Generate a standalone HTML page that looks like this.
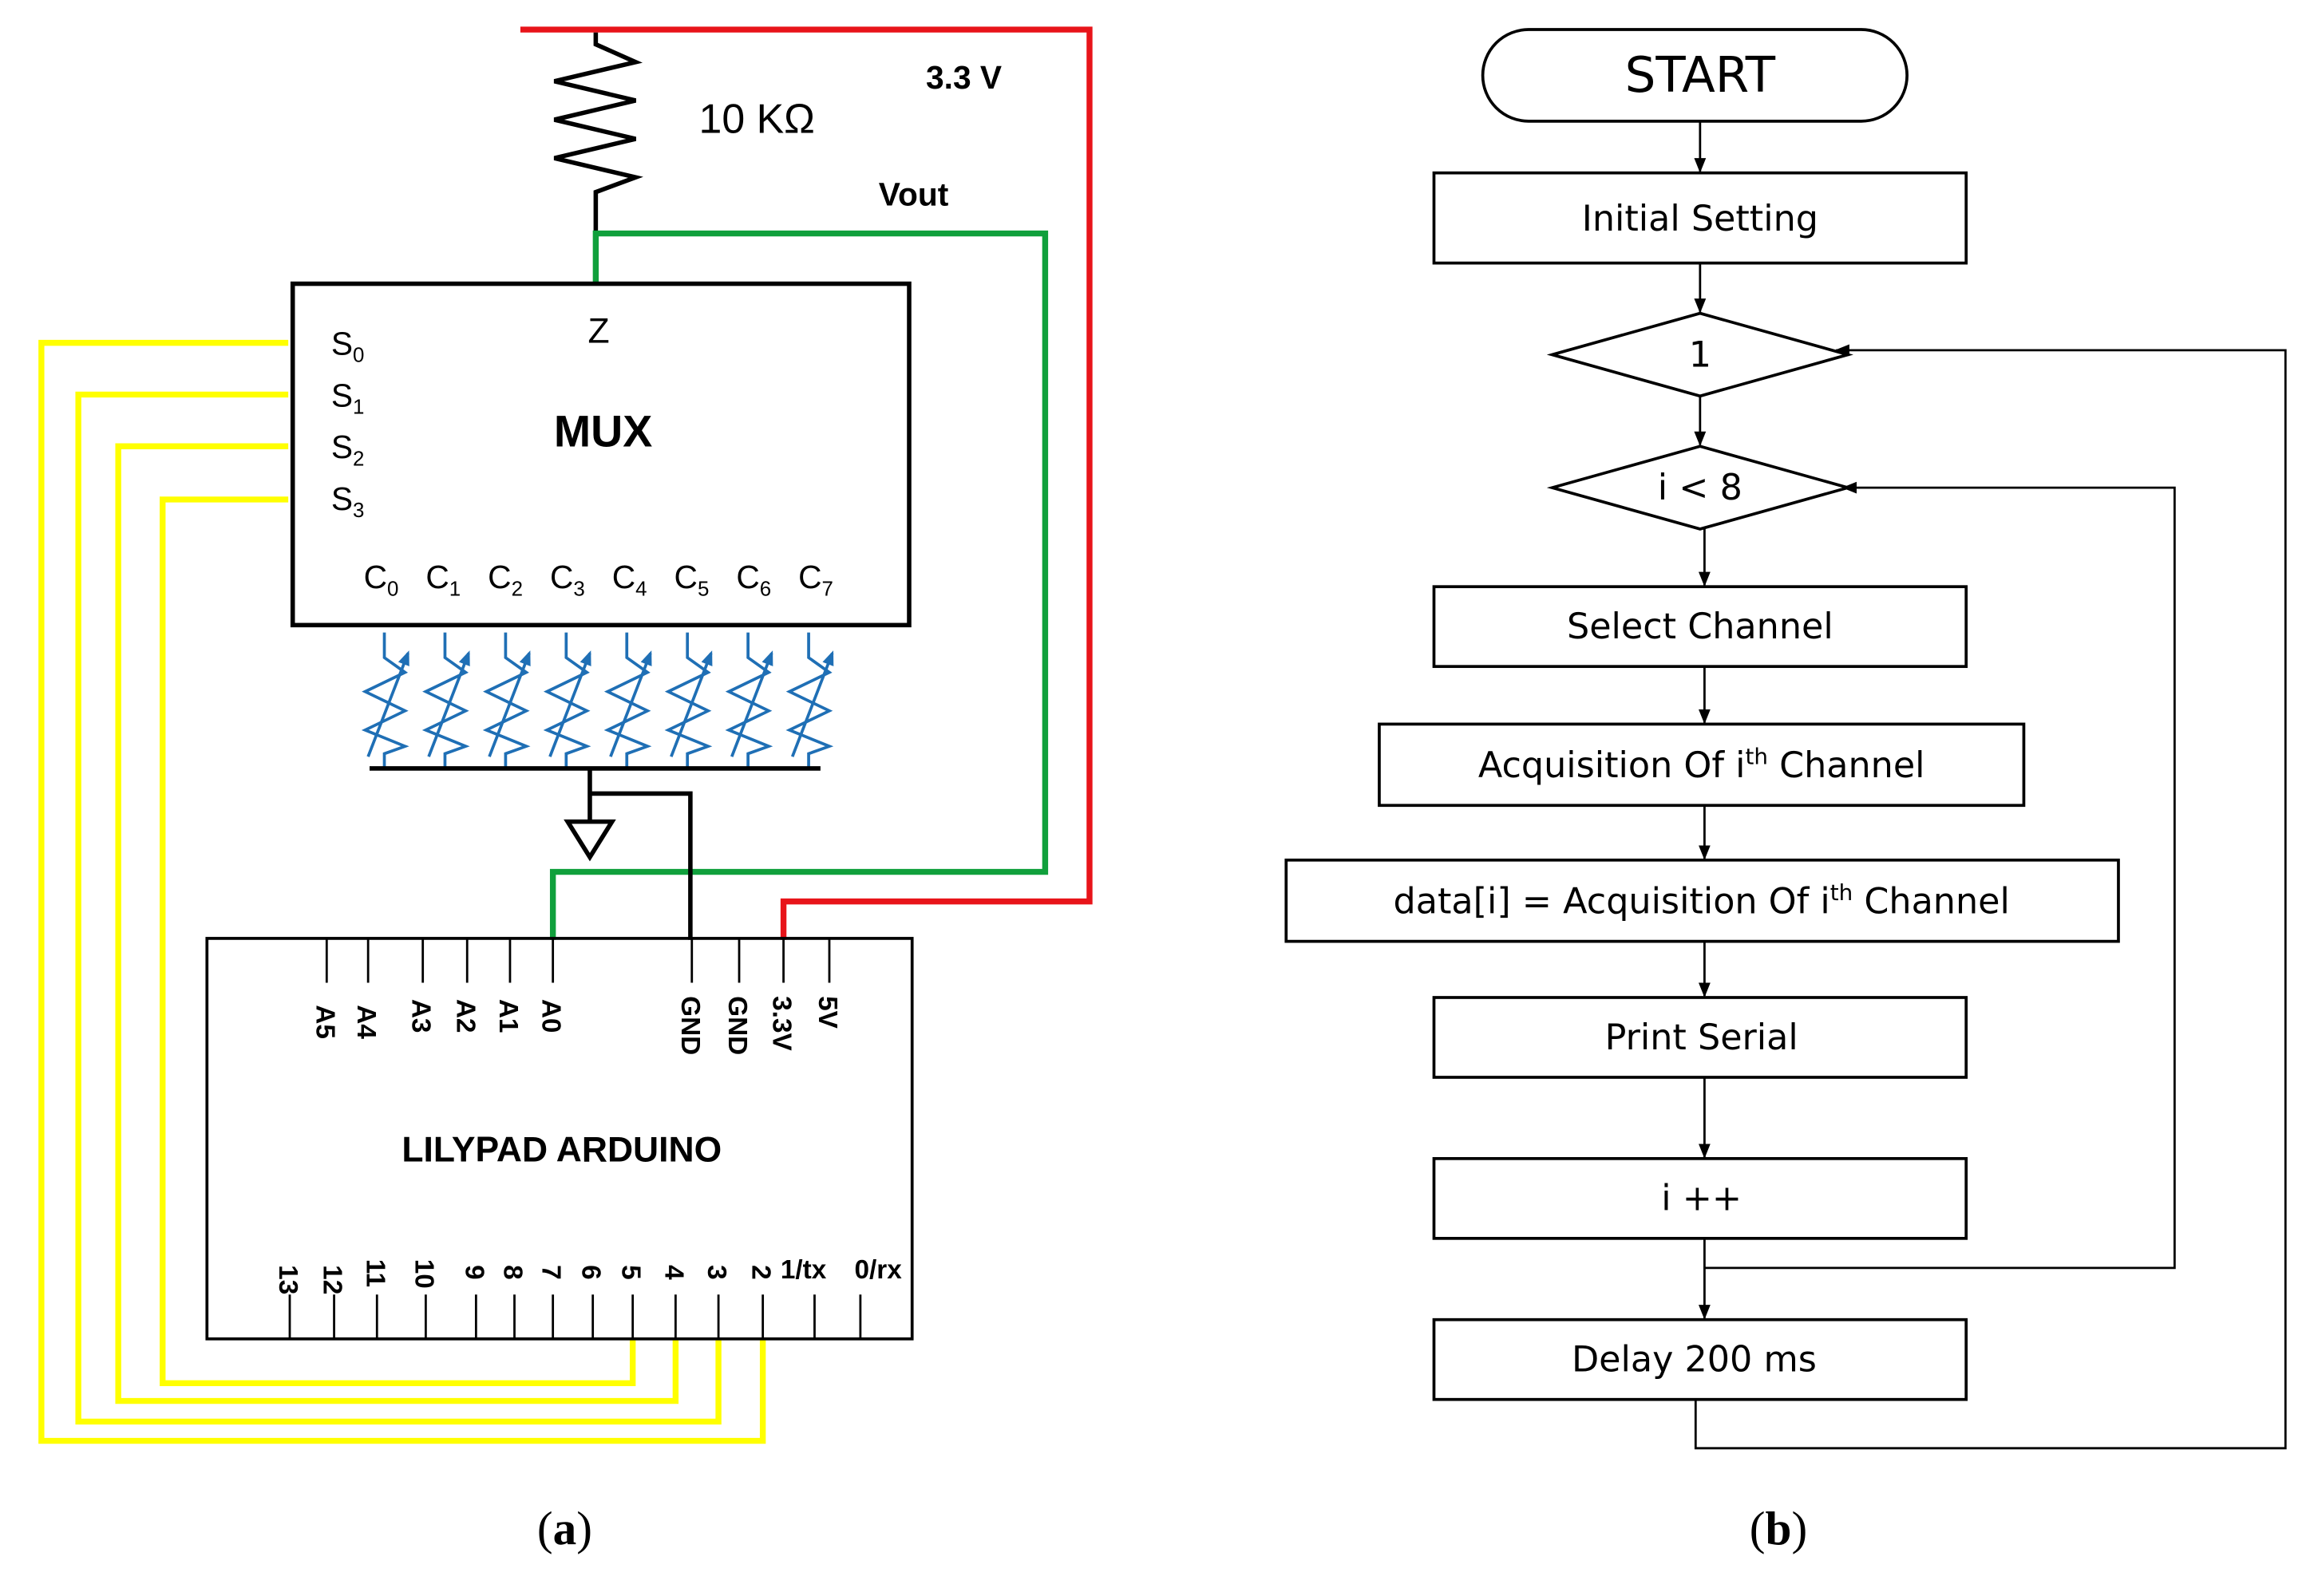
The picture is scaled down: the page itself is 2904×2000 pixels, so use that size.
<!DOCTYPE html>
<html><head><style>html,body{margin:0;padding:0;background:#fff}svg{display:block}</style></head><body>
<svg width="2904" height="2000" viewBox="0 0 1568 1080" preserveAspectRatio="none" xmlns="http://www.w3.org/2000/svg">
<defs><marker id="ah" markerWidth="10" markerHeight="10" refX="9" refY="5" orient="auto" markerUnits="userSpaceOnUse"><path d="M0,1 L10,5 L0,9 z" fill="#000"/></marker>
<marker id="bh" markerWidth="10" markerHeight="10" refX="8" refY="5" orient="auto" markerUnits="userSpaceOnUse"><path d="M0,1 L10,5 L0,9 z" fill="#1f6fb5"/></marker></defs>
<g fill="none" stroke-linejoin="miter">
<polyline points="352,20 737,20 737,610 530,610 530,636" stroke="#e8141a" stroke-width="4"/>
<polyline points="403,22 403,30 430,42 375,55 430,68 375,81 430,94 375,107 430,120 403,130 403,158" stroke="#000" stroke-width="3"/>
<polyline points="403,192 403,158 707,158 707,590 374,590 374,636" stroke="#10a03c" stroke-width="4"/>
<polyline points="195,232 28,232 28,975 516,975 516,906" stroke="#ffff00" stroke-width="4"/>
<polyline points="195,267 53,267 53,962 486,962 486,906" stroke="#ffff00" stroke-width="4"/>
<polyline points="195,302 80,302 80,948 457,948 457,906" stroke="#ffff00" stroke-width="4"/>
<polyline points="195,338 110,338 110,936 428,936 428,906" stroke="#ffff00" stroke-width="4"/>
<rect x="198" y="192" width="417" height="231" stroke="#000" stroke-width="3"/>
<g stroke="#1f6fb5" stroke-width="2">
<g id="th"><polyline points="260,428 260,445 274,455 247,468 274,481 247,494 274,505 260,510 260,520"/><line x1="249" y1="512" x2="276" y2="442" marker-end="url(#bh)"/></g>
<use href="#th" x="41"/><use href="#th" x="82"/><use href="#th" x="123"/><use href="#th" x="164"/><use href="#th" x="205"/><use href="#th" x="246"/><use href="#th" x="287"/>
</g>
<line x1="250" y1="520" x2="555" y2="520" stroke="#000" stroke-width="3"/>
<polyline points="399,520 399,555" stroke="#000" stroke-width="3"/>
<polygon points="384,556 414,556 399,580" stroke="#000" stroke-width="3"/>
<polyline points="399,537 467,537 467,636" stroke="#000" stroke-width="3"/>
<rect x="140" y="635" width="477" height="271" stroke="#000" stroke-width="2"/>
<g stroke="#000" stroke-width="1.5">
<path d="M221,635v30M249,635v30M286,635v30M316,635v30M345,635v30M374,635v30M468,635v30M500,635v30M530,635v30M561,635v30"/>
<path d="M196,876v30M226,876v30M255,876v30M288,876v30M322,876v30M348,876v30M374,876v30M401,876v30M428,876v30M457,876v30M486,876v30M516,876v30M551,876v30M582,876v30"/>
</g>
<g stroke="#000" stroke-width="2">
<rect x="1003" y="20" width="287" height="62" rx="31"/>
<rect x="970" y="117" width="360" height="61"/>
<polygon points="1050,240 1150,212 1250,240 1150,268"/>
<polygon points="1050,330 1150,302 1250,330 1150,358"/>
<rect x="970" y="397" width="360" height="54"/>
<rect x="933" y="490" width="436" height="55"/>
<rect x="870" y="582" width="563" height="55"/>
<rect x="970" y="675" width="360" height="54"/>
<rect x="970" y="784" width="360" height="54"/>
<rect x="970" y="893" width="360" height="54"/>
<g stroke-width="1.5">
<line x1="1150" y1="82" x2="1150" y2="116" marker-end="url(#ah)"/>
<line x1="1150" y1="178" x2="1150" y2="211" marker-end="url(#ah)"/>
<line x1="1150" y1="268" x2="1150" y2="301" marker-end="url(#ah)"/>
<line x1="1153" y1="358" x2="1153" y2="396" marker-end="url(#ah)"/>
<line x1="1153" y1="451" x2="1153" y2="489" marker-end="url(#ah)"/>
<line x1="1153" y1="545" x2="1153" y2="581" marker-end="url(#ah)"/>
<line x1="1153" y1="637" x2="1153" y2="674" marker-end="url(#ah)"/>
<line x1="1153" y1="729" x2="1153" y2="783" marker-end="url(#ah)"/>
<line x1="1153" y1="838" x2="1153" y2="892" marker-end="url(#ah)"/>
<polyline points="1153,858 1471,858 1471,330 1247,330" marker-end="url(#ah)"/>
<polyline points="1147,947 1147,980 1546,980 1546,237 1242,237" marker-end="url(#ah)"/>
</g></g>
</g>
<g font-family="Liberation Sans, sans-serif" fill="#000">
<text x="652" y="60" font-size="22" font-weight="bold" text-anchor="middle">3.3 V</text>
<text x="512" y="90" font-size="28" text-anchor="middle">10 KΩ</text>
<text x="618" y="139" font-size="22" font-weight="bold" text-anchor="middle">Vout</text>
<text x="405" y="232" font-size="24" text-anchor="middle">Z</text>
<text x="408" y="302" font-size="30" font-weight="bold" text-anchor="middle">MUX</text>
<g font-size="22"><text x="224" y="240">S<tspan font-size="14" dy="5">0</tspan></text><text x="224" y="275">S<tspan font-size="14" dy="5">1</tspan></text><text x="224" y="310">S<tspan font-size="14" dy="5">2</tspan></text><text x="224" y="345">S<tspan font-size="14" dy="5">3</tspan></text>
<text x="246" y="398">C<tspan font-size="14" dy="5">0</tspan></text><text x="288" y="398">C<tspan font-size="14" dy="5">1</tspan></text><text x="330" y="398">C<tspan font-size="14" dy="5">2</tspan></text><text x="372" y="398">C<tspan font-size="14" dy="5">3</tspan></text><text x="414" y="398">C<tspan font-size="14" dy="5">4</tspan></text><text x="456" y="398">C<tspan font-size="14" dy="5">5</tspan></text><text x="498" y="398">C<tspan font-size="14" dy="5">6</tspan></text><text x="540" y="398">C<tspan font-size="14" dy="5">7</tspan></text></g>
<g font-size="18" font-weight="bold">
<text transform="translate(214,680) rotate(90)">A5</text><text transform="translate(242,680) rotate(90)">A4</text><text transform="translate(279,676) rotate(90)">A3</text><text transform="translate(309,676) rotate(90)">A2</text><text transform="translate(338,676) rotate(90)">A1</text><text transform="translate(367,676) rotate(90)">A0</text>
<text transform="translate(461,674) rotate(90)">GND</text><text transform="translate(493,674) rotate(90)">GND</text><text transform="translate(523,674) rotate(90)">3.3V</text><text transform="translate(554,674) rotate(90)">5V</text>
<text transform="translate(189,856) rotate(90)">13</text><text transform="translate(219,856) rotate(90)">12</text><text transform="translate(248,852) rotate(90)">11</text><text transform="translate(281,852) rotate(90)">10</text><text transform="translate(315,856) rotate(90)">9</text><text transform="translate(341,856) rotate(90)">8</text><text transform="translate(367,856) rotate(90)">7</text><text transform="translate(394,856) rotate(90)">6</text><text transform="translate(421,856) rotate(90)">5</text><text transform="translate(450,856) rotate(90)">4</text><text transform="translate(479,856) rotate(90)">3</text><text transform="translate(509,856) rotate(90)">2</text>
<text x="528" y="865">1/tx</text><text x="578" y="865">0/rx</text></g>
<text x="380" y="786" font-size="24" font-weight="bold" text-anchor="middle">LILYPAD ARDUINO</text>
</g>
<g font-family="DejaVu Sans, sans-serif" fill="#000" text-anchor="middle" font-size="24">
<text x="1150" y="62" font-size="33">START</text>
<text x="1150" y="156">Initial Setting</text>
<text x="1150" y="248">1</text>
<text x="1150" y="338">i &lt; 8</text>
<text x="1150" y="432">Select Channel</text>
<text x="1151" y="526">Acquisition Of i<tspan font-size="15" dy="-9">th</tspan><tspan dy="9"> Channel</tspan></text>
<text x="1151" y="618">data[i] = Acquisition Of i<tspan font-size="15" dy="-9">th</tspan><tspan dy="9"> Channel</tspan></text>
<text x="1151" y="710">Print Serial</text>
<text x="1151" y="819">i ++</text>
<text x="1146" y="928">Delay 200 ms</text>
</g>
<g font-family="Liberation Serif, serif" font-size="32" text-anchor="middle" fill="#000">
<text x="382" y="1045">(<tspan font-weight="bold">a</tspan>)</text>
<text x="1203" y="1045">(<tspan font-weight="bold">b</tspan>)</text>
</g>
</svg>
</body></html>
